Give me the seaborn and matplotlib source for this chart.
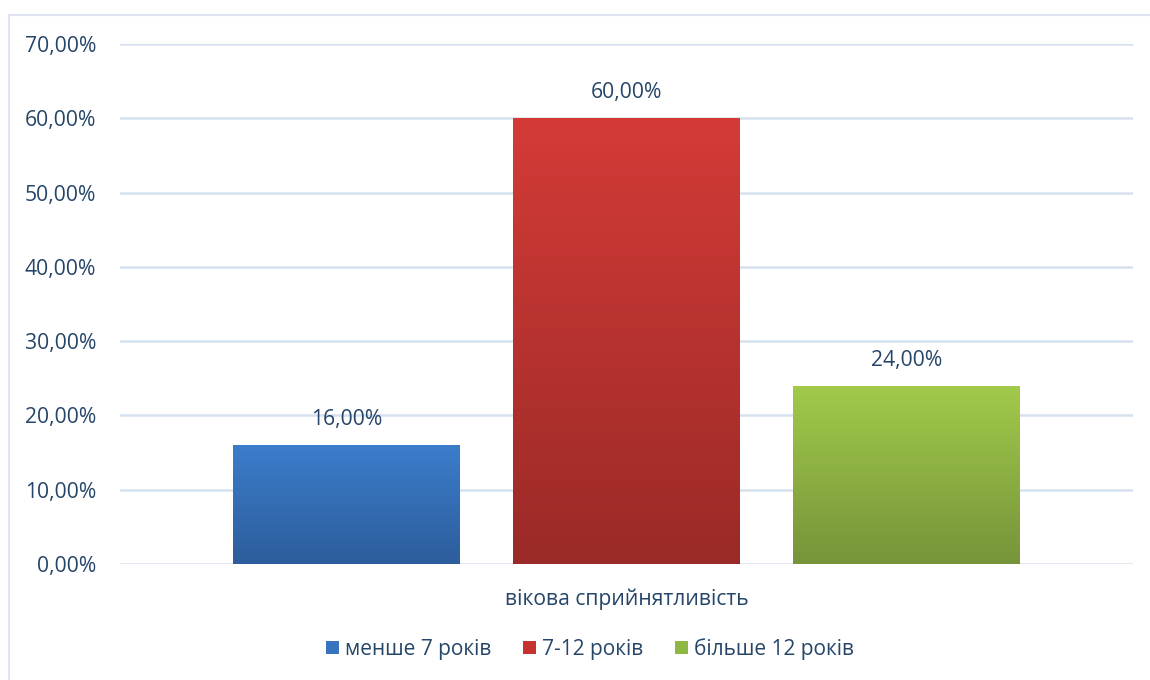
import numpy as np
import pandas as pd
import matplotlib
matplotlib.use("Agg")
import matplotlib.pyplot as plt
from matplotlib.colors import LinearSegmentedColormap
from matplotlib.patches import Patch
from matplotlib.lines import Line2D
import seaborn as sns

category = ["вікова сприйнятливість"]
groups = ["менше 7 років", "7-12 років", "більше 12 років"]
values = [0.16, 0.60, 0.24]
value_labels = ["16,00%", "60,00%", "24,00%"]
y_ticks = [0.0, 0.1, 0.2, 0.3, 0.4, 0.5, 0.6, 0.7]
y_tick_labels = ["0,00%", "10,00%", "20,00%", "30,00%", "40,00%", "50,00%", "60,00%", "70,00%"]

# top / bottom colours of the vertical gradient on each bar
top_colors = ["#3b7dcb", "#d43b37", "#a2ca4b"]
bottom_colors = ["#2d5d9c", "#9a2a27", "#76943a"]
legend_colors = ["#3873c0", "#c53331", "#8fb744"]

text_color = "#264669"
grid_color = "#d6e1ef"
fs = 15.2

df = pd.DataFrame({"cat": category * len(groups), "group": groups, "value": values})

sns.set_theme(style="white")
plt.rcParams["font.family"] = ["Open Sans", "DejaVu Sans"]

fig = plt.figure(figsize=(11.5, 6.8), dpi=100)
ax = fig.add_axes([0.1043, 0.1706, 0.9852 - 0.1043, 0.9353 - 0.1706])

sns.barplot(data=df, x="cat", y="value", hue="group", hue_order=groups,
            palette=legend_colors, width=0.829, gap=0.19, legend=False,
            ax=ax, saturation=1, edgecolor="none")

ax.set_ylim(0, 0.7)
ax.set_xlim(-0.5, 0.5)

# gradient fill clipped to each bar
bars = sorted(ax.patches, key=lambda p: p.get_x())
for bar, c_top, c_bot, lab in zip(bars, top_colors, bottom_colors, value_labels):
    x0 = bar.get_x()
    w = bar.get_width()
    h = bar.get_height()
    cmap = LinearSegmentedColormap.from_list("g", [c_bot, c_top])
    grad = np.linspace(0, 1, 256).reshape(-1, 1)
    im = ax.imshow(grad, cmap=cmap, aspect="auto", origin="lower",
                   extent=[x0, x0 + w, 0, h], zorder=2)
    im.set_clip_path(bar)
    bar.set_facecolor("none")
    ax.annotate(lab, (x0 + w / 2, h), xytext=(0, 18.5), textcoords="offset points",
                ha="center", va="center", fontsize=fs, color=text_color)

ax.set_xlim(-0.5, 0.5)
ax.set_ylim(0, 0.7)

ax.set_yticks(y_ticks)
ax.set_yticklabels(y_tick_labels, fontsize=fs, color=text_color)
ax.tick_params(axis="y", length=0, pad=17)
ax.tick_params(axis="x", length=0, pad=18, labelsize=fs, labelcolor=text_color)
ax.set_xlabel("")
ax.set_ylabel("")
ax.yaxis.grid(True, color=grid_color, linewidth=1.8)
ax.set_axisbelow(True)
for s in ax.spines.values():
    s.set_visible(False)

# chart area frame: top and left edges
frame_top = 1 - 15 / 680
frame_left = 9 / 1150
fig.add_artist(Line2D([frame_left, 1.0], [frame_top, frame_top], transform=fig.transFigure,
                      color="#dde4ef", linewidth=1.5))
fig.add_artist(Line2D([frame_left, frame_left], [0.0, frame_top], transform=fig.transFigure,
                      color="#dde4ef", linewidth=1.5))

handles = [Patch(facecolor=c, edgecolor="none", label=g) for c, g in zip(legend_colors, groups)]
fig.legend(handles=handles, loc="center", bbox_to_anchor=(590 / 1150, 1 - 649 / 680),
           ncol=3, frameon=False, fontsize=15, labelcolor=text_color,
           handlelength=0.62, handleheight=0.62, handletextpad=0.3, columnspacing=1.5)

fig.savefig("out.png", dpi=100, facecolor="white")
